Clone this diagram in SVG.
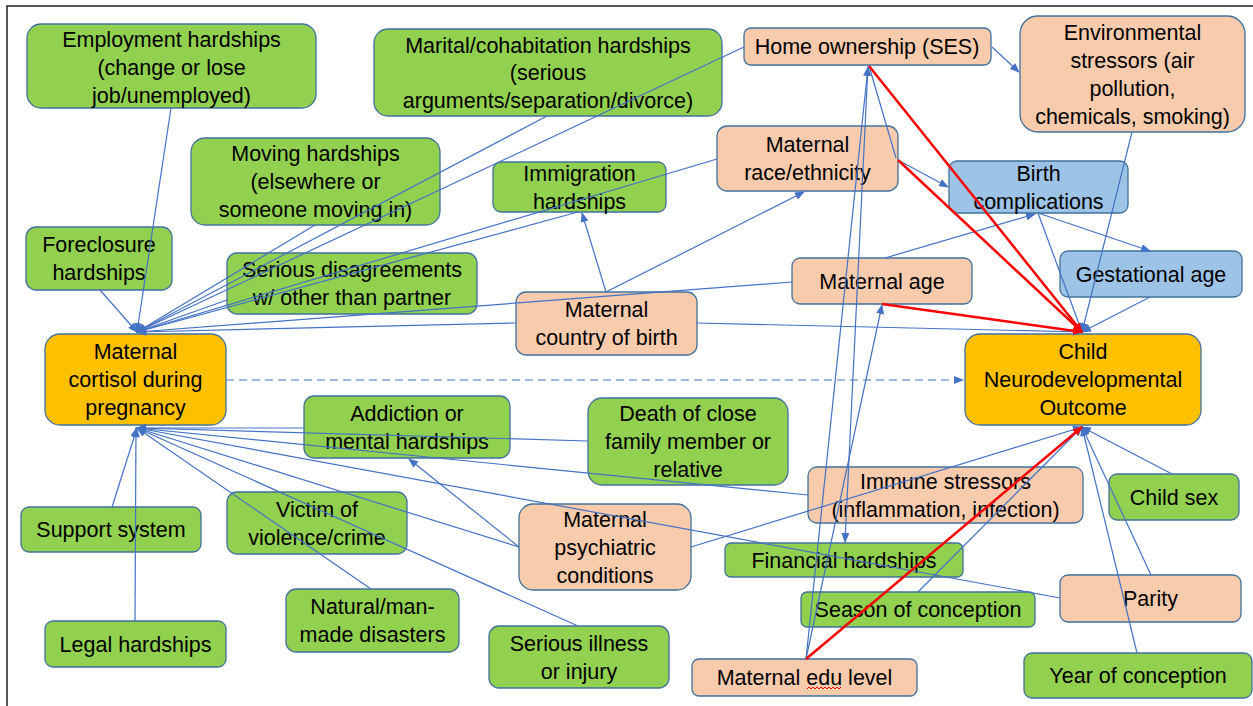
<svg xmlns="http://www.w3.org/2000/svg" width="1253" height="706" viewBox="0 0 1253 706">
<style>
.n rect{stroke:#41719C;stroke-width:1.3}
.g rect{fill:#92D050}
.p rect{fill:#F8CBAD}
.b rect{fill:#9DC3E6}
.o rect{fill:#FFC000}
text{font-family:"Liberation Sans",Arial,sans-serif;font-size:21.5px;fill:#000;text-anchor:middle}
.c line{stroke:#4472C4;stroke-width:1.2;fill:none}
.c line.a{marker-end:url(#ab)}
.c line.r{stroke:#FF0000;stroke-width:2.5;marker-end:url(#ar)}
</style>
<defs>
<marker id="ab" markerUnits="userSpaceOnUse" markerWidth="10" markerHeight="8" refX="9" refY="4" orient="auto"><path d="M0,0 L10,4 L0,8 z" fill="#4472C4"/></marker>
<marker id="ar" markerUnits="userSpaceOnUse" markerWidth="10" markerHeight="8" refX="9" refY="4" orient="auto"><path d="M0,0 L10,4 L0,8 z" fill="#FF0000"/></marker>
</defs>
<rect x="0" y="0" width="1253" height="706" fill="#fff"/>
<path d="M7,706 V6 H1253" fill="none" stroke="#222" stroke-width="1.5"/>

<g id="employment" class="n g"><rect x="27" y="24" width="289" height="84" rx="14"/><text x="171.5" y="47">Employment hardships</text><text x="171.5" y="75">(change or lose</text><text x="171.5" y="103">job/unemployed)</text></g>
<g id="marital" class="n g"><rect x="374" y="29" width="348" height="87" rx="14"/><text x="548" y="52.5">Marital/cohabitation hardships</text><text x="548" y="80">(serious</text><text x="548" y="107.5">arguments/separation/divorce)</text></g>
<g id="home" class="n p"><rect x="744" y="28" width="247" height="37" rx="7"/><text x="867" y="54">Home ownership (SES)</text></g>
<g id="environmental" class="n p"><rect x="1020" y="16" width="225" height="116" rx="18"/><text x="1132.5" y="39.5">Environmental</text><text x="1132.5" y="67.5">stressors (air</text><text x="1132.5" y="95.5">pollution,</text><text x="1132.5" y="123.5">chemicals, smoking)</text></g>
<g id="moving" class="n g"><rect x="191" y="138" width="249" height="87" rx="14"/><text x="315.5" y="161">Moving hardships</text><text x="315.5" y="189">(elsewhere or</text><text x="315.5" y="217">someone moving in)</text></g>
<g id="immigration" class="n g"><rect x="493" y="162" width="173" height="50" rx="8"/><text x="579.5" y="180.5">Immigration</text><text x="579.5" y="208.5">hardships</text></g>
<g id="race" class="n p"><rect x="717" y="126" width="181" height="65" rx="10"/><text x="807.5" y="152">Maternal</text><text x="807.5" y="180">race/ethnicity</text></g>
<g id="birth" class="n b"><rect x="949" y="161" width="179" height="52" rx="8"/><text x="1038.5" y="180.5">Birth</text><text x="1038.5" y="208.5">complications</text></g>
<g id="gestational" class="n b"><rect x="1060" y="251" width="182" height="46" rx="8"/><text x="1151" y="281.5">Gestational age</text></g>
<g id="foreclosure" class="n g"><rect x="26" y="227" width="146" height="63" rx="10"/><text x="99" y="252">Foreclosure</text><text x="99" y="280">hardships</text></g>
<g id="disagreements" class="n g"><rect x="227" y="253" width="250" height="61" rx="10"/><text x="352" y="277">Serious disagreements</text><text x="352" y="305">w/ other than partner</text></g>
<g id="age" class="n p"><rect x="792" y="258" width="180" height="46" rx="8"/><text x="882" y="288.5">Maternal age</text></g>
<g id="country" class="n p"><rect x="516" y="292" width="181" height="63" rx="10"/><text x="606.5" y="317">Maternal</text><text x="606.5" y="345">country of birth</text></g>
<g id="cortisol" class="n o"><rect x="45" y="334" width="181" height="91" rx="15"/><text x="135.5" y="359">Maternal</text><text x="135.5" y="387">cortisol during</text><text x="135.5" y="415">pregnancy</text></g>
<g id="child" class="n o"><rect x="965" y="334" width="236" height="91" rx="15"/><text x="1083" y="359">Child</text><text x="1083" y="387">Neurodevelopmental</text><text x="1083" y="415">Outcome</text></g>
<g id="addiction" class="n g"><rect x="304" y="396" width="206" height="62" rx="10"/><text x="407" y="420.5">Addiction or</text><text x="407" y="448.5">mental hardships</text></g>
<g id="death" class="n g"><rect x="588" y="398" width="200" height="87" rx="14"/><text x="688" y="421">Death of close</text><text x="688" y="449">family member or</text><text x="688" y="477">relative</text></g>
<g id="immune" class="n p"><rect x="808" y="467" width="275" height="56" rx="9"/><text x="945.5" y="488.5">Immune stressors</text><text x="945.5" y="516.5">(inflammation, infection)</text></g>
<g id="childsex" class="n g"><rect x="1109" y="474" width="130" height="46" rx="8"/><text x="1174" y="504.5">Child sex</text></g>
<g id="support" class="n g"><rect x="21" y="507" width="180" height="45" rx="8"/><text x="111" y="537">Support system</text></g>
<g id="victim" class="n g"><rect x="227" y="492" width="180" height="62" rx="10"/><text x="317" y="516.5">Victim of</text><text x="317" y="544.5">violence/crime</text></g>
<g id="psychiatric" class="n p"><rect x="519" y="504" width="172" height="86" rx="14"/><text x="605" y="526.5">Maternal</text><text x="605" y="554.5">psychiatric</text><text x="605" y="582.5">conditions</text></g>
<g id="financial" class="n g"><rect x="725" y="543" width="238" height="34" rx="6"/><text x="844" y="567.5">Financial hardships</text></g>
<g id="season" class="n g"><rect x="801" y="592" width="234" height="35" rx="6"/><text x="918" y="617">Season of conception</text></g>
<g id="parity" class="n p"><rect x="1060" y="575" width="181" height="47" rx="8"/><text x="1150.5" y="606">Parity</text></g>
<g id="natural" class="n g"><rect x="286" y="589" width="173" height="63" rx="10"/><text x="372.5" y="614">Natural/man-</text><text x="372.5" y="642">made disasters</text></g>
<g id="legal" class="n g"><rect x="45" y="621" width="181" height="46" rx="8"/><text x="135.5" y="651.5">Legal hardships</text></g>
<g id="illness" class="n g"><rect x="489" y="626" width="180" height="62" rx="10"/><text x="579" y="650.5">Serious illness</text><text x="579" y="678.5">or injury</text></g>
<g id="edu" class="n p"><rect x="692" y="659" width="225" height="37" rx="7"/><text x="804.5" y="685">Maternal edu level</text><path d="M807,689 l2,-2 l2,2 l2,-2 l2,2 l2,-2 l2,2 l2,-2 l2,2 l2,-2 l2,2 l2,-2 l2,2 l2,-2 l2,2 l2,-2 l2,2 l2,-2" fill="none" stroke="#FF0000" stroke-width="1"/></g>
<g id="year" class="n g"><rect x="1024" y="653" width="228" height="45" rx="8"/><text x="1138" y="683">Year of conception</text></g>

<g id="connectors" class="c">
<line class="a" x1="171" y1="108" x2="137" y2="332"/>
<line class="a" x1="100" y1="290" x2="137" y2="332"/>
<line class="a" x1="315" y1="225" x2="137" y2="332"/>
<line class="a" x1="547" y1="116" x2="137" y2="332"/>
<line class="a" x1="744" y1="47" x2="137" y2="332"/>
<line class="a" x1="578" y1="212" x2="137" y2="332"/>
<line class="a" x1="717" y1="159" x2="137" y2="332"/>
<line class="a" x1="227" y1="300" x2="137" y2="332"/>
<line class="a" x1="516" y1="323" x2="137" y2="332"/>
<line class="a" x1="792" y1="282" x2="137" y2="332"/>

<line class="a" x1="112" y1="507" x2="137" y2="428"/>
<line class="a" x1="135" y1="621" x2="136" y2="428"/>
<line class="a" x1="304" y1="428" x2="137" y2="428"/>
<line class="a" x1="588" y1="441" x2="137" y2="428"/>
<line class="a" x1="808" y1="495" x2="137" y2="428"/>
<line class="a" x1="1060" y1="598" x2="137" y2="428"/>
<line class="a" x1="519" y1="547" x2="137" y2="428"/>
<line class="a" x1="578" y1="626" x2="137" y2="428"/>
<line class="a" x1="371" y1="589" x2="137" y2="428"/>

<line class="a" x1="697" y1="323" x2="1082" y2="332"/>
<line class="a" x1="1038" y1="213" x2="1082" y2="332"/>
<line class="a" x1="1132" y1="132" x2="1082" y2="332"/>
<line class="a" x1="1150" y1="297" x2="1082" y2="332"/>

<line class="a" x1="691" y1="547" x2="1082" y2="427"/>
<line class="a" x1="918" y1="592" x2="1082" y2="427"/>
<line class="a" x1="1172" y1="474" x2="1082" y2="427"/>
<line class="a" x1="1151" y1="575" x2="1082" y2="427"/>
<line class="a" x1="1137" y1="653" x2="1082" y2="427"/>

<line class="a" x1="992" y1="47" x2="1019" y2="72"/>
<line class="a" x1="898" y1="160" x2="948" y2="187"/>
<line class="a" x1="885" y1="258" x2="1035" y2="214"/>
<line class="a" x1="1038" y1="213" x2="1150" y2="251"/>
<line class="a" x1="606" y1="292" x2="582" y2="213"/>
<line class="a" x1="606" y1="292" x2="804" y2="192"/>
<line class="a" x1="806" y1="659" x2="868" y2="67"/>
<line class="a" x1="806" y1="659" x2="882" y2="305"/>
<line class="a" x1="868" y1="66" x2="845" y2="542"/>
<line class="a" x1="519" y1="547" x2="409" y2="459"/>
<line x1="869" y1="66" x2="896" y2="158"/>
<line class="a" x1="226" y1="380" x2="963" y2="380" stroke-dasharray="8,5"/>

<line class="r" x1="869" y1="66" x2="1082" y2="332"/>
<line class="r" x1="898" y1="160" x2="1082" y2="332"/>
<line class="r" x1="882" y1="304" x2="1082" y2="332"/>
<line class="r" x1="806" y1="659" x2="1082" y2="427"/>
</g>
</svg>
